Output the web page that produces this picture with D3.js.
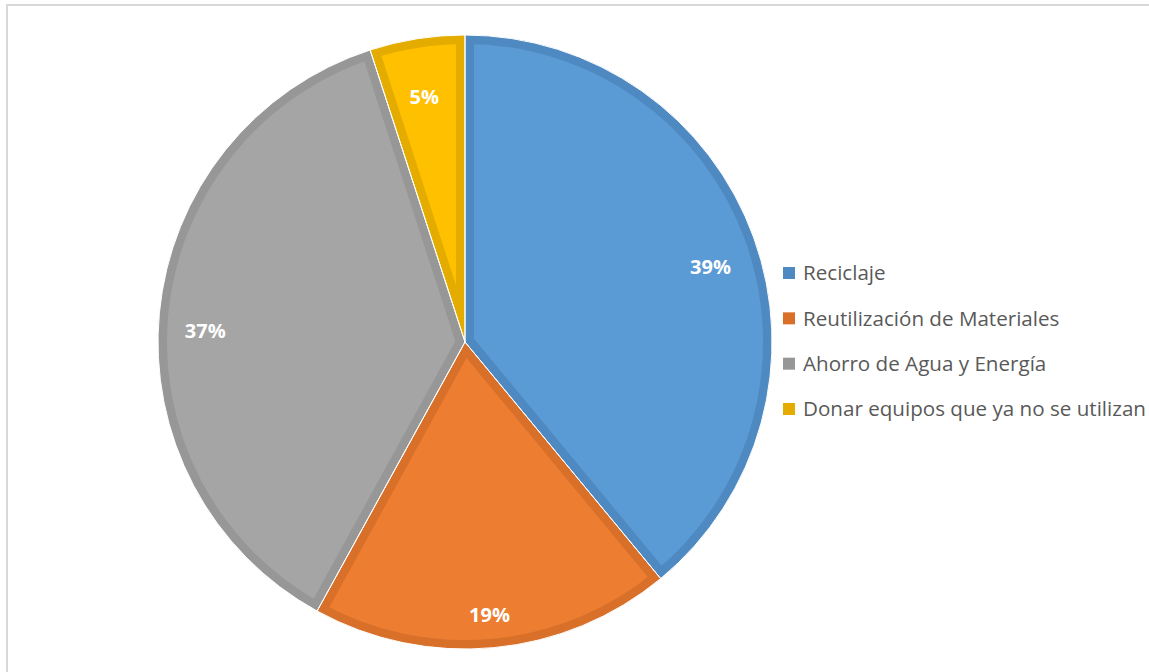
<!DOCTYPE html>
<html>
<head>
<meta charset="utf-8">
<script src="https://cdn.jsdelivr.net/npm/d3@7"></script>
<style>
  body { margin: 0; background: #fff; }
  svg { display: block; }
</style>
</head>
<body>
<div id="chart"></div>
<script>
var categories = ['Reciclaje', 'Reutilización de Materiales', 'Ahorro de Agua y Energía', 'Donar equipos que ya no se utilizan'];
var values = [39, 19, 37, 5];
var fills = ['#5b9bd5', '#ed7d31', '#a5a5a5', '#ffc000'];
var edges = ['#4f89c2', '#d8702a', '#979797', '#e5ac00'];

var width = 1149, height = 672;
var cx = 465, cy = 342, radius = 307;

var svg = d3.select('#chart').append('svg')
    .attr('width', width)
    .attr('height', height);

// chart frame (only left and top edges visible)
svg.append('rect')
    .attr('x', 7).attr('y', 5)
    .attr('width', width + 20).attr('height', height + 20)
    .attr('fill', 'none')
    .attr('stroke', '#d9d9d9')
    .attr('stroke-width', 2);

var pie = d3.pie().sort(null).value(function(d) { return d; });
var arcs = pie(values);
var arc = d3.arc().innerRadius(0).outerRadius(radius);
var labelArc = d3.arc().innerRadius(radius * 0.85).outerRadius(radius * 0.85);

var g = svg.append('g').attr('transform', 'translate(' + cx + ',' + cy + ')');
var defs = svg.append('defs');

arcs.forEach(function(a, i) {
    defs.append('clipPath').attr('id', 'clip' + i)
        .append('path').attr('d', arc(a));
});

g.selectAll('path.slice')
    .data(arcs)
    .enter().append('path')
    .attr('class', 'slice')
    .attr('d', arc)
    .attr('clip-path', function(d, i) { return 'url(#clip' + i + ')'; })
    .attr('fill', function(d, i) { return fills[i]; })
    .attr('stroke', function(d, i) { return edges[i]; })
    .attr('stroke-width', 18)
    .attr('stroke-linejoin', 'miter');

// thin white separators
g.selectAll('path.sep')
    .data(arcs)
    .enter().append('path')
    .attr('class', 'sep')
    .attr('d', arc)
    .attr('fill', 'none')
    .attr('stroke', '#fff')
    .attr('stroke-width', 1);

// excel puts the labels a bit below the mid-angle point
g.selectAll('text.pct')
    .data(arcs)
    .enter().append('text')
    .attr('class', 'pct')
    .attr('transform', function(d) {
        var c = labelArc.centroid(d);
        return 'translate(' + c[0] + ',' + (c[1] + 13) + ')';
    })
    .attr('text-anchor', 'middle')
    .attr('dy', '0.36em')
    .attr('font-family', '"Open Sans", sans-serif')
    .attr('font-weight', 'bold')
    .attr('font-size', '20px')
    .attr('fill', '#fff')
    .text(function(d) { return d.data + '%'; });

var legend = svg.append('g').attr('transform', 'translate(783,273)');
var rowY = d3.scaleLinear().domain([0, 3]).range([0, 136]);

var items = legend.selectAll('g')
    .data(categories)
    .enter().append('g')
    .attr('transform', function(d, i) { return 'translate(0,' + rowY(i) + ')'; });

items.append('rect')
    .attr('x', 0).attr('y', -6)
    .attr('width', 12).attr('height', 12)
    .attr('fill', function(d, i) { return edges[i]; });

items.append('text')
    .attr('x', 20)
    .attr('dy', '0.35em')
    .attr('font-family', '"Open Sans", sans-serif')
    .attr('font-size', '20.6px')
    .attr('fill', '#595959')
    .text(function(d) { return d; });
</script>
</body>
</html>
